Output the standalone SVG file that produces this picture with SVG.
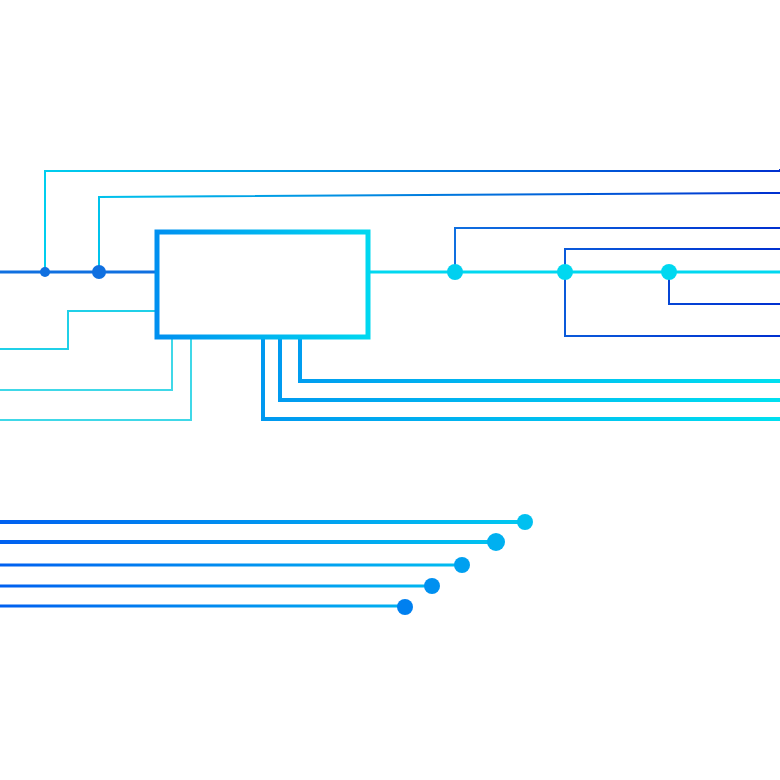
<svg xmlns="http://www.w3.org/2000/svg" width="780" height="780" viewBox="0 0 780 780">
<style>
.l{fill:none;stroke-linejoin:miter}
</style>
<defs>
<linearGradient id="bc" gradientUnits="userSpaceOnUse" x1="0" y1="0" x2="560" y2="0"><stop offset="0" stop-color="#0060f0"/><stop offset="1" stop-color="#00d0f0"/></linearGradient>
<linearGradient id="cb" gradientUnits="userSpaceOnUse" x1="0" y1="0" x2="780" y2="0"><stop offset="0" stop-color="#00d8f0"/><stop offset="1" stop-color="#0030d0"/></linearGradient>
<linearGradient id="box" gradientUnits="userSpaceOnUse" x1="157" y1="0" x2="368" y2="0"><stop offset="0" stop-color="#0090f0"/><stop offset="1" stop-color="#00d8f0"/></linearGradient>
<linearGradient id="bot" gradientUnits="userSpaceOnUse" x1="260" y1="0" x2="780" y2="0"><stop offset="0" stop-color="#0098f0"/><stop offset="1" stop-color="#00e0f0"/></linearGradient>
<linearGradient id="rb" gradientUnits="userSpaceOnUse" x1="450" y1="0" x2="780" y2="0"><stop offset="0" stop-color="#1070e0"/><stop offset="1" stop-color="#0030d0"/></linearGradient>
</defs>
<g id="connectors">
<path class="l" d="M45 272 V171 H780 V169" stroke="url(#cb)" stroke-width="2"/>
<path class="l" d="M99 272 V197 L780 193" stroke="url(#cb)" stroke-width="2"/>
<path class="l" d="M0 272 H157" stroke="#1070e0" stroke-width="3"/>
<path class="l" d="M368 272 H780" stroke="#00d8f0" stroke-width="3"/>
<path class="l" d="M455 272 V228 H780" stroke="url(#rb)" stroke-width="2"/>
<path class="l" d="M565 272 V249 H780" stroke="url(#rb)" stroke-width="2"/>
<path class="l" d="M565 272 V336 H780" stroke="url(#rb)" stroke-width="2"/>
<path class="l" d="M669 272 V304 H780" stroke="url(#rb)" stroke-width="2"/>
<path class="l" d="M300 337 V381 H780" stroke="url(#bot)" stroke-width="4"/>
<path class="l" d="M280 337 V400 H780" stroke="url(#bot)" stroke-width="4"/>
<path class="l" d="M263 337 V419 H780" stroke="url(#bot)" stroke-width="4"/>
<path class="l" d="M157 311 H68 V349 H0" stroke="#20d0e8" stroke-width="2"/>
<path class="l" d="M172 337 V390 H0" stroke="#40d8e8" stroke-width="2"/>
<path class="l" d="M191 337 V420 H0" stroke="#40d8e8" stroke-width="2"/>
<path class="l" d="M0 522 H525" stroke="url(#bc)" stroke-width="4"/>
<path class="l" d="M0 542 H496" stroke="url(#bc)" stroke-width="4"/>
<path class="l" d="M0 565 H462" stroke="url(#bc)" stroke-width="3"/>
<path class="l" d="M0 586 H432" stroke="url(#bc)" stroke-width="3"/>
<path class="l" d="M0 606 H405" stroke="url(#bc)" stroke-width="3"/>
</g>
<g id="dots">
<circle cx="45" cy="272" r="5" fill="#1070e0"/>
<circle cx="99" cy="272" r="7" fill="#1070e0"/>
<circle cx="455" cy="272" r="8" fill="#00d0f0"/>
<circle cx="565" cy="272" r="8" fill="#00d8f0"/>
<circle cx="669" cy="272" r="8" fill="#00d8f0"/>
<circle cx="525" cy="522" r="8" fill="#00c0f0"/>
<circle cx="496" cy="542" r="9" fill="#00b0f0"/>
<circle cx="462" cy="565" r="8" fill="#00a0f0"/>
<circle cx="432" cy="586" r="8" fill="#0090f0"/>
<circle cx="405" cy="607" r="8" fill="#0080f0"/>
</g>
<g id="box-node">
<rect x="157" y="232" width="211" height="105" fill="#fff" stroke="url(#box)" stroke-width="5"/>
</g>
</svg>
